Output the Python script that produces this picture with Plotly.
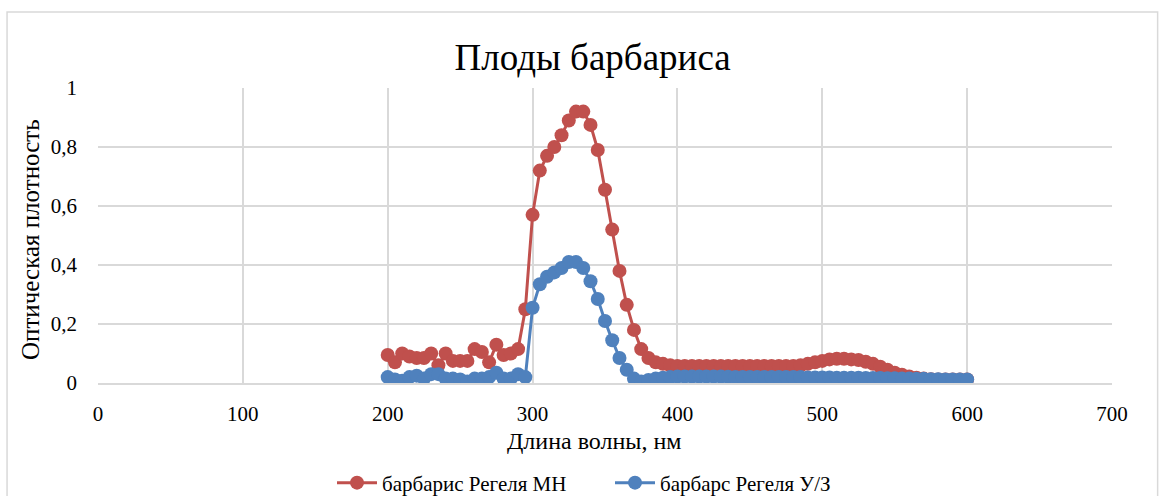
import plotly.graph_objects as go

# Wavelength grid, nm
wavelength = list(range(200, 605, 5))

# Optical density, barberry (Regel) - MN extract
od_mn = [
    0.095, 0.070, 0.100, 0.090, 0.085, 0.085, 0.100, 0.060, 0.100, 0.075,
    0.075, 0.075, 0.115, 0.105, 0.070, 0.130, 0.095, 0.100, 0.115, 0.250,
    0.570, 0.720, 0.770, 0.800, 0.840, 0.890, 0.920, 0.920, 0.875, 0.790,
    0.655, 0.520, 0.380, 0.265, 0.180, 0.115, 0.085, 0.070, 0.065, 0.060,
    0.058, 0.058, 0.058, 0.058, 0.058, 0.058, 0.058, 0.058, 0.058, 0.058,
    0.058, 0.058, 0.058, 0.058, 0.058, 0.058, 0.058, 0.060, 0.065, 0.070,
    0.075, 0.080, 0.082, 0.082, 0.080, 0.078, 0.072, 0.065, 0.055, 0.045,
    0.035, 0.028, 0.022, 0.018, 0.015, 0.013, 0.012, 0.012, 0.012, 0.012,
    0.012,
]

# Optical density, barberry (Regel) - ultrasound extract
od_us = [
    0.020, 0.012, 0.008, 0.020, 0.025, 0.015, 0.030, 0.030, 0.015, 0.015,
    0.012, 0.005, 0.015, 0.015, 0.020, 0.035, 0.015, 0.015, 0.030, 0.020,
    0.255, 0.335, 0.360, 0.375, 0.390, 0.410, 0.410, 0.390, 0.345, 0.285,
    0.210, 0.145, 0.085, 0.045, 0.015, 0.005, 0.010, 0.015, 0.018, 0.020,
    0.022, 0.022, 0.022, 0.022, 0.022, 0.022, 0.022, 0.021, 0.020, 0.020,
    0.020, 0.020, 0.020, 0.020, 0.020, 0.020, 0.020, 0.020, 0.019, 0.019,
    0.019, 0.019, 0.018, 0.018, 0.018, 0.018, 0.017, 0.017, 0.017, 0.016,
    0.016, 0.015, 0.015, 0.014, 0.014, 0.013, 0.013, 0.012, 0.012, 0.012,
    0.012,
]

RED = "#C0504D"
BLUE = "#4F81BD"
FONT = "Liberation Serif"

fig = go.Figure()
fig.add_trace(go.Scatter(
    x=wavelength, y=od_mn, mode="lines+markers", name="барбарис Регеля МН",
    line=dict(color=RED, width=3), marker=dict(color=RED, size=14),
))
fig.add_trace(go.Scatter(
    x=wavelength, y=od_us, mode="lines+markers", name="барбарс Регеля У/З",
    line=dict(color=BLUE, width=3), marker=dict(color=BLUE, size=14),
))

# chart frame
fig.add_shape(type="rect", xref="paper", yref="paper",
              x0=-0.0897, x1=1.045, y0=-0.5, y1=1.2576,
              line=dict(color="#D9D9D9", width=1.5), layer="below")

fig.update_layout(
    width=1162, height=496,
    margin=dict(l=98, r=50, t=88, b=113, autoexpand=False),
    paper_bgcolor="white", plot_bgcolor="white",
    separators=", ",
    font=dict(family=FONT, color="#000000", size=20),
    title=dict(text="Плоды барбариса", x=0.510, xanchor="center",
               y=1 - 57 / 496, yanchor="middle",
               font=dict(family=FONT, size=37, color="#000000")),
    showlegend=True,
    legend=dict(orientation="h", x=(332 - 98) / 1014, xanchor="left",
                yref="container", y=1 - 483 / 496, yanchor="middle",
                font=dict(family=FONT, size=21, color="#000000"),
                entrywidth=223, itemwidth=40),
    xaxis=dict(range=[0, 700], dtick=100, showgrid=True, gridcolor="#D9D9D9",
               gridwidth=1.5, zeroline=False, showline=True, linecolor="#D9D9D9",
               linewidth=1.5, ticks="", ticklabelstandoff=11,
               tickfont=dict(family=FONT, size=21)),
    yaxis=dict(range=[0, 1], dtick=0.2, showgrid=True, gridcolor="#D9D9D9",
               gridwidth=1.5, zeroline=False, showline=False, ticks="",
               ticklabelstandoff=20, tickfont=dict(family=FONT, size=21)),
    annotations=[
        dict(text="Длина волны, нм", xref="paper", yref="paper",
             x=(594 - 98) / 1014, y=(383 - 441) / 295, xanchor="center",
             yanchor="middle", showarrow=False, font=dict(family=FONT, size=24)),
        dict(text="Оптическая плотность", xref="paper", yref="paper",
             x=(30 - 98) / 1014, y=(383 - 240) / 295, xanchor="center",
             yanchor="middle", textangle=-90, showarrow=False,
             font=dict(family=FONT, size=25)),
    ],
)

fig.write_html("out.html")
